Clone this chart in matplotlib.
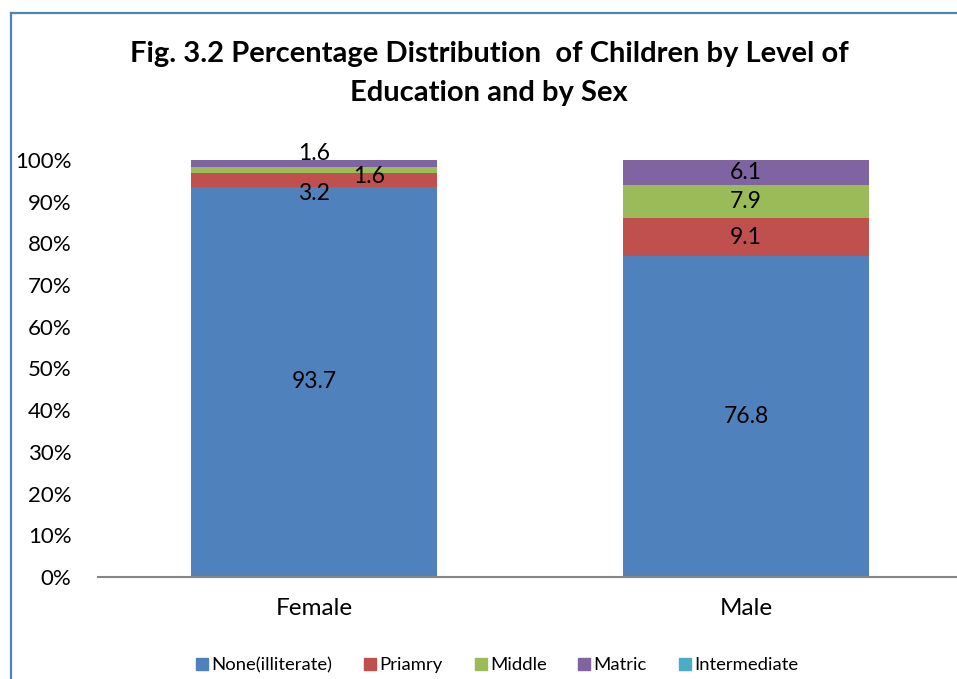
import matplotlib
matplotlib.use("Agg")
import matplotlib.pyplot as plt
import numpy as np
from matplotlib.lines import Line2D

categories = ["Female", "Male"]
series_names = ["None(illiterate)", "Priamry", "Middle", "Matric", "Intermediate"]
none_vals = [93.7, 76.8]
primary_vals = [3.2, 9.1]
middle_vals = [1.6, 7.9]
matric_vals = [1.6, 6.1]
intermediate_vals = [0.0, 0.0]
y_ticks = [0, 10, 20, 30, 40, 50, 60, 70, 80, 90, 100]
y_tick_labels = ["0%", "10%", "20%", "30%", "40%", "50%", "60%", "70%", "80%", "90%", "100%"]

colors = ["#4F81BD", "#C0504D", "#9BBB59", "#8064A2", "#4BACC6"]
FONT = ["Lato", "DejaVu Sans"]
plt.rcParams['font.family'] = FONT

W, H = 957, 679
fig = plt.figure(figsize=(W / 100, H / 100), dpi=100)
ax = fig.add_axes([98 / W, 1 - 577 / H, (962 - 98) / W, (577 - 160) / H])

series = [none_vals, primary_vals, middle_vals, matric_vals, intermediate_vals]
data = np.array(series, dtype=float)
totals = data.sum(axis=0)
pct = data / totals * 100

x = np.arange(len(categories))
bottoms = np.zeros(len(categories))
# label offsets (points) per series per category, for Excel-like placement
offsets = {
    (1, 0): (0, -10),
    (2, 0): (40, -5),
    (3, 0): (0, 7),
}
for i, name in enumerate(series_names):
    ax.bar(x, pct[i], width=0.57, bottom=bottoms, color=colors[i], label=name, zorder=2)
    for j in range(len(categories)):
        if data[i, j] > 0:
            cy = bottoms[j] + pct[i, j] / 2
            dx, dy = offsets.get((i, j), (0, 0))
            ax.annotate(f"{data[i, j]:.1f}", (x[j], cy), xytext=(dx, dy),
                        textcoords="offset points", ha="center", va="center",
                        fontsize=16.5, color="black", zorder=5)
    bottoms += pct[i]

ax.set_xlim(-0.5, 1.5)
ax.set_ylim(0, 100)
ax.set_yticks(y_ticks)
ax.set_yticklabels(y_tick_labels, fontsize=16)
ax.set_xticks(x)
ax.set_xticklabels(categories, fontsize=17.5)
ax.tick_params(axis="y", length=0, pad=19)
ax.tick_params(axis="x", length=0, pad=15)
for s in ["top", "right", "left"]:
    ax.spines[s].set_visible(False)
ax.spines["bottom"].set_color("#868686")
ax.spines["bottom"].set_linewidth(1.5)

fig.text(489 / W, 1 - 54 / H, "Fig. 3.2 Percentage Distribution  of Children by Level of",
         ha="center", va="center", fontsize=21, fontweight="bold")
fig.text(489 / W, 1 - 93 / H, "Education and by Sex",
         ha="center", va="center", fontsize=21, fontweight="bold")

handles = [Line2D([], [], marker="s", linestyle="none", markersize=9,
                  markerfacecolor=c, markeredgecolor=c) for c in colors]
fig.legend(handles, series_names, loc="center", bbox_to_anchor=(496 / W, 1 - 665 / H),
           ncol=5, frameon=False, fontsize=13.3, handletextpad=0.05, columnspacing=1.6,
           handlelength=0.9)

# outer chart border (partially cropped)
fig.add_artist(Line2D([11 / W, 11 / W], [0, 1 - 13 / H], color="#4F81BD", lw=1.6, transform=fig.transFigure))
fig.add_artist(Line2D([11 / W, 1], [1 - 13 / H, 1 - 13 / H], color="#4F81BD", lw=1.6, transform=fig.transFigure))

fig.savefig("out.png", dpi=100)
